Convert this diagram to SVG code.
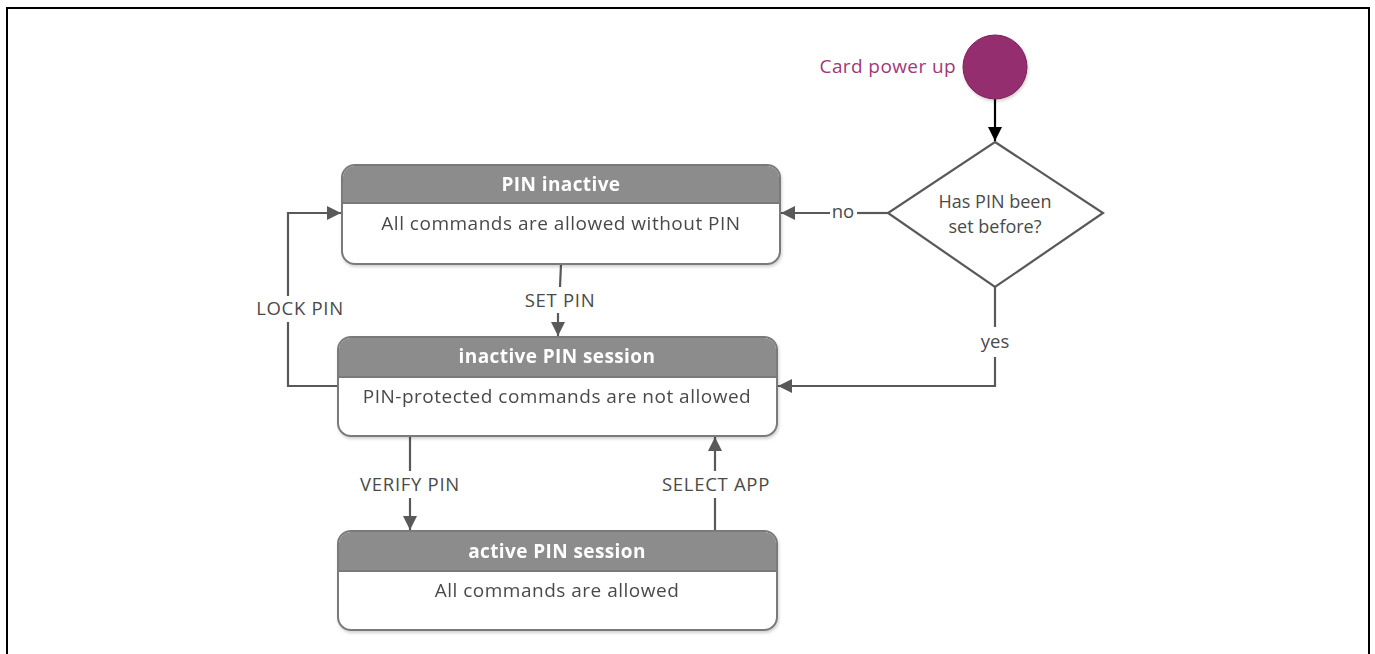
<svg xmlns="http://www.w3.org/2000/svg" width="1375" height="654" viewBox="0 0 1375 654">
<defs>
<marker id="ag" viewBox="0 0 10 10" refX="10" refY="5" markerWidth="6.5" markerHeight="6.5" markerUnits="strokeWidth" orient="auto"><path d="M0,0 L10,5 L0,10 z" fill="#595959"/></marker>
<marker id="ak" viewBox="0 0 10 10" refX="10" refY="5" markerWidth="6.5" markerHeight="6.5" markerUnits="strokeWidth" orient="auto"><path d="M0,0 L10,5 L0,10 z" fill="#000"/></marker>
<filter id="sh" x="-5%" y="-5%" width="110%" height="120%"><feDropShadow dx="1" dy="2" stdDeviation="1.5" flood-color="#000" flood-opacity="0.18"/></filter>
</defs>
<style>
text{font-family:"Open Sans","Noto Sans","Liberation Sans",sans-serif;}
.box{fill:#fff;stroke:#7a7a7a;stroke-width:2;}
.hdr{fill:#8c8c8c;}
.ht{fill:#fff;font-weight:bold;font-size:19px;letter-spacing:0.4px;text-anchor:middle;}
.bt{fill:#4a4a4a;font-size:19px;letter-spacing:0.5px;text-anchor:middle;}
.dt{fill:#4a4a4a;font-size:18px;text-anchor:middle;}
.lbl{fill:#4a4a4a;font-size:18.5px;letter-spacing:0.7px;text-anchor:middle;}
.c{fill:none;stroke:#595959;stroke-width:2.2;}
</style>
<rect x="7" y="8" width="1362" height="660" fill="none" stroke="#000" stroke-width="2"/>
<g id="connectors">
<line class="c" x1="995" y1="99" x2="995" y2="141" style="stroke:#000" marker-end="url(#ak)"/>
<line class="c" x1="888" y1="213" x2="857" y2="213"/>
<line class="c" x1="830" y1="213" x2="781" y2="213" marker-end="url(#ag)"/>
<text class="lbl" x="843" y="218" style="letter-spacing:0">no</text>
<polyline class="c" points="995,287 995,327"/>
<polyline class="c" points="995,357 995,386 778,386" marker-end="url(#ag)"/>
<text class="lbl" x="995" y="348" style="letter-spacing:0">yes</text>
<line class="c" x1="561" y1="264" x2="560" y2="287"/>
<line class="c" x1="558" y1="313" x2="558" y2="336" marker-end="url(#ag)"/>
<text class="lbl" x="560" y="307">SET PIN</text>
<polyline class="c" points="338,386 288,386 288,322"/>
<polyline class="c" points="288,296 288,213 341,213" marker-end="url(#ag)"/>
<text class="lbl" x="300" y="315">LOCK PIN</text>
<line class="c" x1="410" y1="437" x2="410" y2="471"/>
<line class="c" x1="410" y1="498" x2="410" y2="530" marker-end="url(#ag)"/>
<text class="lbl" x="410" y="491">VERIFY PIN</text>
<line class="c" x1="715" y1="531" x2="715" y2="498"/>
<line class="c" x1="715" y1="471" x2="715" y2="437" marker-end="url(#ag)"/>
<text class="lbl" x="716" y="491">SELECT APP</text>
</g>
<g id="start">
<circle cx="995" cy="67" r="32" fill="#952d6e" stroke="#7d2159" stroke-width="1" filter="url(#sh)"/>
<text x="956" y="73" font-size="19" letter-spacing="0.4" fill="#a0387a" text-anchor="end">Card power up</text>
</g>
<g id="decision">
<polygon points="995,142 1103,213 995,287 888,213" fill="#fff" stroke="#595959" stroke-width="2.2"/>
<text class="dt" x="995" y="208">Has PIN been</text>
<text class="dt" x="995" y="233">set before?</text>
</g>
<g id="pin-inactive" filter="url(#sh)">
<rect class="box" x="342" y="165" width="438" height="99" rx="13"/>
<path class="hdr" d="M343,203 V178 A12,12 0 0 1 355,166 H767 A12,12 0 0 1 779,178 V203 Z"/>
<line x1="343" y1="203" x2="779" y2="203" stroke="#7a7a7a" stroke-width="2"/>
<text class="ht" x="561" y="191">PIN inactive</text>
<text class="bt" x="561" y="230">All commands are allowed without PIN</text>
</g>
<g id="inactive-pin-session" filter="url(#sh)">
<rect class="box" x="338" y="337" width="439" height="99" rx="13"/>
<path class="hdr" d="M339,377 V350 A12,12 0 0 1 351,338 H764 A12,12 0 0 1 776,350 V377 Z"/>
<line x1="339" y1="377" x2="776" y2="377" stroke="#7a7a7a" stroke-width="2"/>
<text class="ht" x="557" y="363">inactive PIN session</text>
<text class="bt" x="557" y="403">PIN-protected commands are not allowed</text>
</g>
<g id="active-pin-session" filter="url(#sh)">
<rect class="box" x="338" y="531" width="439" height="99" rx="13"/>
<path class="hdr" d="M339,571 V544 A12,12 0 0 1 351,532 H764 A12,12 0 0 1 776,544 V571 Z"/>
<line x1="339" y1="571" x2="776" y2="571" stroke="#7a7a7a" stroke-width="2"/>
<text class="ht" x="557" y="558">active PIN session</text>
<text class="bt" x="557" y="597">All commands are allowed</text>
</g>
</svg>
